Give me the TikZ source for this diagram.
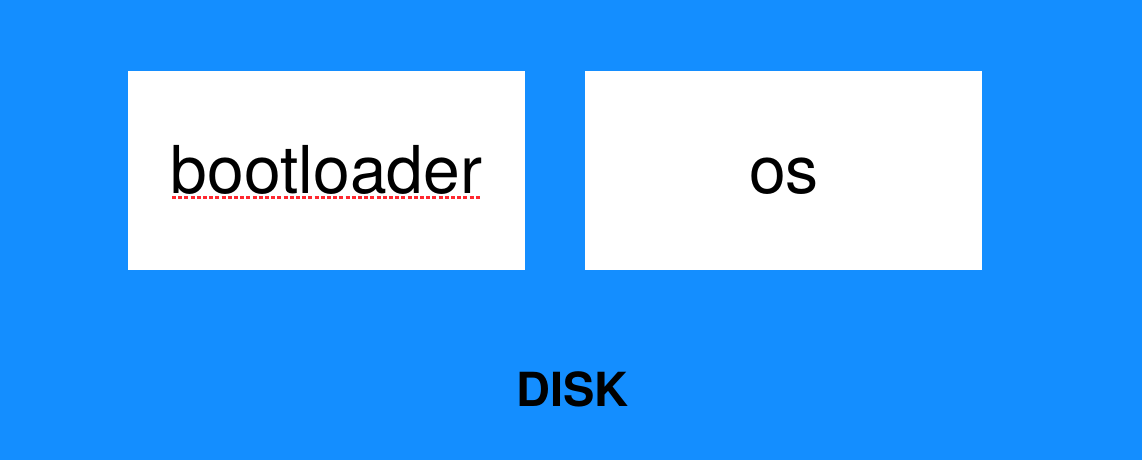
\documentclass[tikz,border=0pt]{standalone}
\usepackage{fontspec}
\setmainfont{TeX Gyre Heros}
\usetikzlibrary{positioning}

\definecolor{diskblue}{RGB}{20,142,255}
\definecolor{spellred}{RGB}{255,40,48}

\tikzset{
  part/.style={fill=white, inner sep=0pt, minimum width=397pt, minimum height=199pt,
    font=\fontsize{66}{66}\selectfont, text height=47pt, text depth=0pt},
  squiggle/.style={spellred, line width=2.7pt, dash pattern=on 4pt off 2.2pt}
}

\begin{document}
\begin{tikzpicture}[x=1pt, y=-1pt]
\useasboundingbox[fill=diskblue] (0,0) rectangle (1142,460);

% the two partitions
\node[part] (boot) at (326.5,170) {bootloader};
\node[part, right=60pt of boot] (os) {os};

% spell-check underline
\draw[squiggle] (172,197.5) -- (481,197.5);

\node[font=\fontsize{47}{47}\selectfont\bfseries, anchor=base] (disk) at (572.5,406) {DISK};
\end{tikzpicture}
\end{document}
